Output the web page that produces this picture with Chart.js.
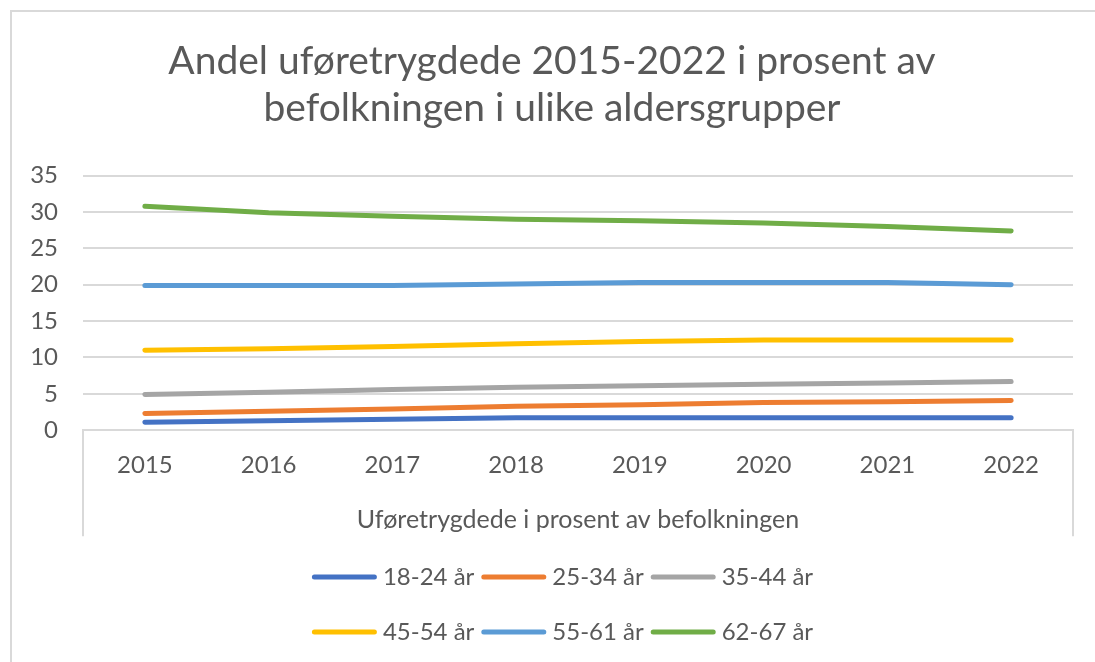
<!DOCTYPE html>
<html>
<head>
<meta charset="utf-8">
<script src="https://cdn.jsdelivr.net/npm/chart.js@4/dist/chart.umd.min.js"></script>
<style>
    html, body { margin: 0; padding: 0; background: #fff; overflow: hidden; }
    #frame {
        position: absolute; left: 10px; top: 10px;
        width: 1200px; height: 800px;
        border: 2px solid #d9d9d9;
    }
    #wrap { position: absolute; left: 0; top: 0; width: 1095px; height: 662px; }
</style>
</head>
<body>
<div id="frame"></div>
<div id="wrap"><canvas id="myChart"></canvas></div>
<script>
    const years = ['2015', '2016', '2017', '2018', '2019', '2020', '2021', '2022'];
    const group18_24 = [1.1, 1.3, 1.5, 1.7, 1.7, 1.7, 1.7, 1.7];
    const group25_34 = [2.3, 2.6, 2.9, 3.3, 3.5, 3.8, 3.9, 4.1];
    const group35_44 = [4.9, 5.2, 5.6, 5.9, 6.1, 6.3, 6.5, 6.7];
    const group45_54 = [11.0, 11.2, 11.5, 11.9, 12.2, 12.4, 12.4, 12.4];
    const group55_61 = [19.9, 19.9, 19.9, 20.1, 20.3, 20.3, 20.3, 20.0];
    const group62_67 = [30.8, 29.9, 29.4, 29.0, 28.8, 28.5, 28.0, 27.4];
    const seriesNames = ['18-24 år', '25-34 år', '35-44 år', '45-54 år', '55-61 år', '62-67 år'];
    const yTicks = [0, 5, 10, 15, 20, 25, 30, 35];

    const FONT = 'Lato, "Open Sans", sans-serif';
    const TEXT = '#595959';
    const GRID = '#d9d9d9';
    const colors = ['#4472c4', '#ed7d31', '#a5a5a5', '#ffc000', '#5b9bd5', '#70ad47'];
    const values = [group18_24, group25_34, group35_44, group45_54, group55_61, group62_67];

    const datasets = seriesNames.map((name, i) => ({
        label: name,
        data: values[i],
        borderColor: colors[i],
        backgroundColor: colors[i],
        borderWidth: 5,
        borderCapStyle: 'round',
        borderJoinStyle: 'round',
        pointRadius: 0,
        tension: 0
    }));

    // Excel style category box + legend in two rows
    const excelFrame = {
        id: 'excelFrame',
        afterDraw(chart) {
            const ctx = chart.ctx;
            const a = chart.chartArea;
            ctx.save();
            ctx.strokeStyle = GRID;
            ctx.lineWidth = 2;
            ctx.beginPath();
            ctx.moveTo(a.left, a.bottom);
            ctx.lineTo(a.left, a.bottom + 106);
            ctx.moveTo(a.right, a.bottom);
            ctx.lineTo(a.right, a.bottom + 106);
            ctx.stroke();

            ctx.font = '24px ' + FONT;
            ctx.textBaseline = 'middle';
            const rows = [[0, 1, 2], [3, 4, 5]];
            const rowY = [chart.height - 85, chart.height - 30];
            const cx = chart.width / 2 + 15;
            rows.forEach((row, r) => {
                const widths = row.map(i => 65 + 6 + ctx.measureText(seriesNames[i]).width);
                const total = widths.reduce((s, w) => s + w, 0) + 7 * (row.length - 1);
                let x = cx - total / 2;
                row.forEach((i, k) => {
                    ctx.strokeStyle = colors[i];
                    ctx.lineWidth = 5;
                    ctx.lineCap = 'round';
                    ctx.beginPath();
                    ctx.moveTo(x + 2.5, rowY[r]);
                    ctx.lineTo(x + 62.5, rowY[r]);
                    ctx.stroke();
                    ctx.fillStyle = TEXT;
                    ctx.fillText(seriesNames[i], x + 71, rowY[r]);
                    x += widths[k] + 7;
                });
            });
            ctx.restore();
        }
    };

    const myChart = new Chart(document.getElementById('myChart'), {
        type: 'line',
        data: { labels: years, datasets: datasets },
        plugins: [excelFrame],
        options: {
            responsive: true,
            maintainAspectRatio: false,
            animation: false,
            layout: { padding: { left: 31, right: 22, top: 0, bottom: 122 } },
            plugins: {
                legend: { display: false },
                tooltip: { enabled: false },
                title: {
                    display: true,
                    text: ['Andel uføretrygdede 2015-2022 i prosent av', 'befolkningen i ulike aldersgrupper'],
                    color: TEXT,
                    font: { family: FONT, size: 39, weight: 'normal', lineHeight: 1.2 },
                    padding: { top: 38, bottom: 44 }
                }
            },
            scales: {
                x: {
                    offset: true,
                    grid: { display: false, drawTicks: false },
                    border: { display: true, color: GRID, width: 2 },
                    ticks: { color: TEXT, font: { family: FONT, size: 24 }, padding: 21, maxRotation: 0 },
                    title: {
                        display: true,
                        text: 'Uføretrygdede i prosent av befolkningen',
                        color: TEXT,
                        font: { family: FONT, size: 25 },
                        padding: { top: 4, bottom: 5 }
                    }
                },
                y: {
                    min: 0,
                    max: 35,
                    afterFit(scale) { scale.width = 52; },
                    afterBuildTicks(scale) { scale.ticks = yTicks.map(v => ({ value: v })); },
                    grid: { color: GRID, lineWidth: 2, drawTicks: false },
                    border: { display: false },
                    ticks: { color: TEXT, font: { family: FONT, size: 24 }, padding: 25 }
                }
            }
        }
    });
</script>
</body>
</html>
